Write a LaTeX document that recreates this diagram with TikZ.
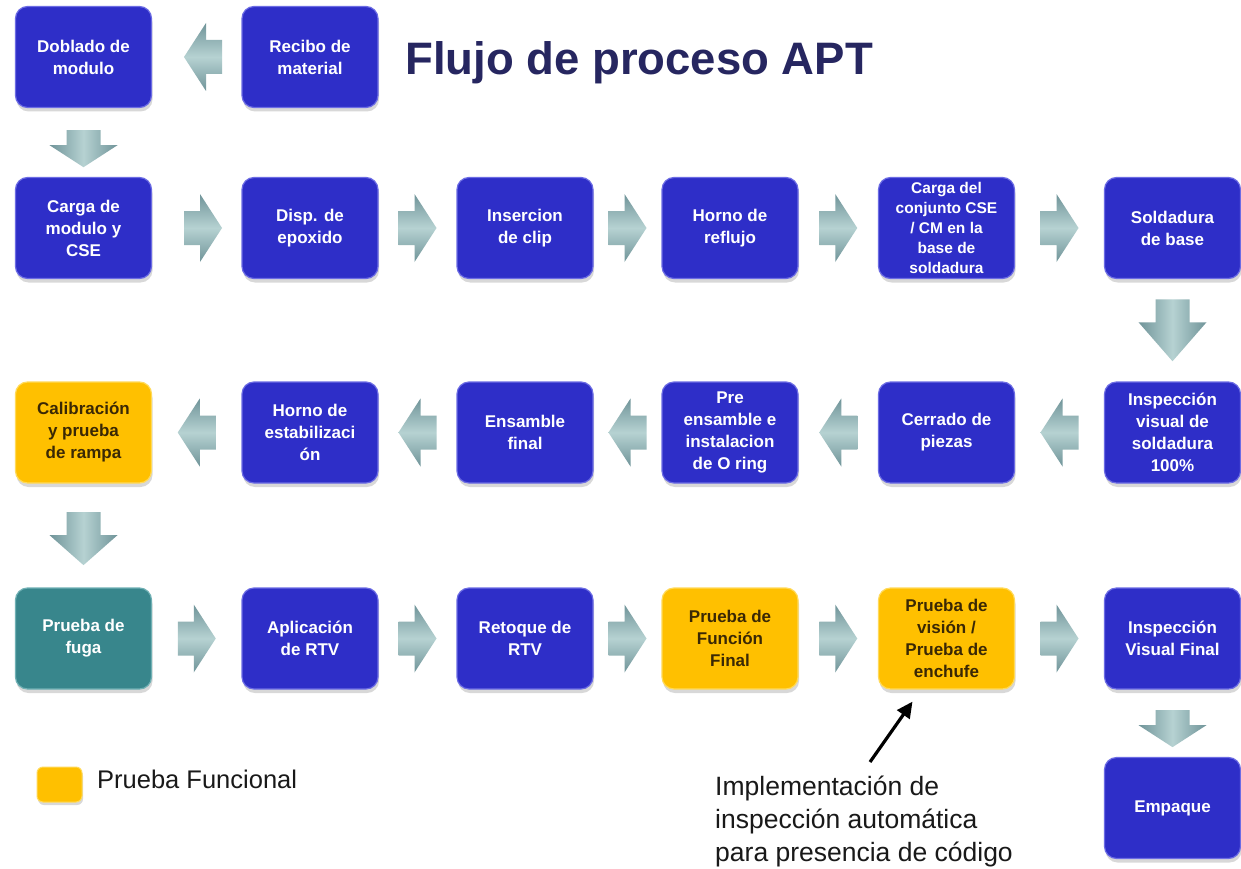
\documentclass[tikz,border=0pt]{standalone}
\usepackage{fontspec}
\setmainfont{Liberation Sans}
\usetikzlibrary{shadows,calc,arrows.meta}
\definecolor{boxblue}{RGB}{46,46,200}
\definecolor{boxrim}{RGB}{108,108,228}
\definecolor{boxyellow}{RGB}{255,192,0}
\definecolor{yellowrim}{RGB}{255,218,90}
\definecolor{boxteal}{RGB}{56,134,140}
\definecolor{tealrim}{RGB}{112,176,180}
\definecolor{titlenavy}{RGB}{38,38,96}
\definecolor{yellowtext}{RGB}{58,40,5}
\definecolor{arrowedge}{RGB}{112,148,153}
\definecolor{arrowmid}{RGB}{182,210,210}
\tikzset{
  procbox/.style={rectangle, rounded corners=12pt, minimum width=136pt, minimum height=101pt,
    inner sep=2pt, align=center, font=\bfseries\fontsize{17}{22}\selectfont, line width=1.2pt,
    drop shadow={shadow xshift=1pt, shadow yshift=-4pt, opacity=0.3}},
  bluebox/.style={procbox, fill=boxblue, draw=boxrim, text=white},
  yellowbox/.style={procbox, fill=boxyellow, draw=yellowrim, text=yellowtext},
  tealbox/.style={procbox, fill=boxteal, draw=tealrim, text=white},
  hshade/.style={top color=arrowedge, bottom color=arrowedge, middle color=arrowmid},
  vshade/.style={left color=arrowedge, right color=arrowedge, middle color=arrowmid},
}
% #1 from, #2 to, #3 fraction, #4 rotation, #5 shading, #6 length, #7 head length
\newcommand\flowarrow[7]{%
  \path[#5, shift={($(#1)!#3!(#2)$)}, rotate=#4]
    (-#6/2,17) -- (#6/2-#7,17) -- (#6/2-#7,34) -- (#6/2,0) -- (#6/2-#7,-34)
    -- (#6/2-#7,-17) -- (-#6/2,-17) -- cycle;
}
\begin{document}
\begin{tikzpicture}[x=1pt,y=1pt]
\fill[white] (0,0) rectangle (1241,-869);
\useasboundingbox (0,0) rectangle (1241,-869);

% title
\node[anchor=base west, inner sep=0pt, text=titlenavy, font=\bfseries\fontsize{45.5}{52}\selectfont]
  (title) at (405,-75) {Flujo de proceso APT};

% row 1
\node[bluebox] (doblado) at (83.5,-57) {Doblado de\\modulo};
\node[bluebox] (recibo) at (310,-57) {Recibo de\\material};
% row 2
\node[bluebox] (carga) at (83.5,-228) {Carga de\\modulo y\\CSE};
\node[bluebox] (disp) at (310,-228) {Disp. de\\epoxido};
\node[bluebox] (insercion) at (525,-228) {Insercion\\de clip};
\node[bluebox] (reflujo) at (730,-228) {Horno de\\reflujo};
\node[bluebox, font=\bfseries\fontsize{15.5}{20}\selectfont] (cargadel) at (946.5,-228)
  {Carga del\\conjunto CSE\\/ CM en la\\base de\\soldadura};
\node[bluebox] (soldadura) at (1172.5,-228) {Soldadura\\de base};
% row 3
\node[bluebox] (inspsold) at (1172.5,-432.5) {Inspección\\visual de\\soldadura\\100\%};
\node[bluebox] (cerrado) at (946.5,-432.5) {Cerrado de\\piezas};
\node[bluebox] (preens) at (730,-432.5) {Pre\\ensamble e\\instalacion\\de O ring};
\node[bluebox] (ensamble) at (525,-432.5) {Ensamble\\final};
\node[bluebox] (hornoest) at (310,-432.5) {Horno de\\estabilizaci\\ón};
\node[yellowbox] (calib) at (83.5,-432.5) {Calibración\\y prueba\\de rampa};
% row 4
\node[tealbox] (fuga) at (83.5,-638.5) {Prueba de\\fuga};
\node[bluebox] (aplic) at (310,-638.5) {Aplicación\\de RTV};
\node[bluebox] (retoque) at (525,-638.5) {Retoque de\\RTV};
\node[yellowbox] (funcion) at (730,-638.5) {Prueba de\\Función\\Final};
\node[yellowbox] (vision) at (946.5,-638.5) {Prueba de\\visión /\\Prueba de\\enchufe};
\node[bluebox] (inspfinal) at (1172.5,-638.5) {Inspección\\Visual Final};
% row 5
\node[bluebox] (empaque) at (1172.5,-808) {Empaque};

% block arrows
\flowarrow{recibo.west}{doblado.east}{0.43}{180}{hshade}{38}{22}
\flowarrow{doblado.south}{carga.north}{0.59}{-90}{vshade}{37}{22}
\flowarrow{carga.east}{disp.west}{0.57}{0}{hshade}{38}{22}
\flowarrow{disp.east}{insercion.west}{0.5}{0}{hshade}{38}{22}
\flowarrow{insercion.east}{reflujo.west}{0.5}{0}{hshade}{38}{22}
\flowarrow{reflujo.east}{cargadel.west}{0.5}{0}{hshade}{38}{22}
\flowarrow{cargadel.east}{soldadura.west}{0.5}{0}{hshade}{38}{22}
\flowarrow{soldadura.south}{inspsold.north}{0.5}{-90}{vshade}{62}{39}
\flowarrow{inspsold.west}{cerrado.east}{0.5}{180}{hshade}{38}{22}
\flowarrow{cerrado.west}{preens.east}{0.5}{180}{hshade}{38}{22}
\flowarrow{preens.west}{ensamble.east}{0.5}{180}{hshade}{38}{22}
\flowarrow{ensamble.west}{hornoest.east}{0.5}{180}{hshade}{38}{22}
\flowarrow{hornoest.west}{calib.east}{0.5}{180}{hshade}{38}{22}
\flowarrow{calib.south}{fuga.north}{0.53}{-90}{vshade}{53}{30}
\flowarrow{fuga.east}{aplic.west}{0.5}{0}{hshade}{38}{22}
\flowarrow{aplic.east}{retoque.west}{0.5}{0}{hshade}{38}{22}
\flowarrow{retoque.east}{funcion.west}{0.5}{0}{hshade}{38}{22}
\flowarrow{funcion.east}{vision.west}{0.5}{0}{hshade}{38}{22}
\flowarrow{vision.east}{inspfinal.west}{0.5}{0}{hshade}{38}{22}
\flowarrow{inspfinal.south}{empaque.north}{0.58}{-90}{vshade}{37}{22}

% legend
\node[rectangle, rounded corners=6pt, minimum width=45pt, minimum height=35pt, inner sep=0pt,
  fill=boxyellow, draw=yellowrim, line width=1pt,
  drop shadow={shadow xshift=1pt, shadow yshift=-3pt, opacity=0.3}] (legbox) at (59.5,-784.5) {};
\node[anchor=base west, inner sep=0pt, font=\fontsize{25.5}{30}\selectfont, text=black!90]
  (legtext) at (97,-788) {Prueba Funcional};

% annotation
\node[anchor=north west, inner sep=0pt, align=left, font=\fontsize{26.5}{33}\selectfont, text=black!90]
  (annot) at (715,-776) {Implementación de\\inspección automática\\para presencia de código};
\draw[line width=3.2pt, -{Triangle[length=16pt,width=15pt]}]
  ($(annot.north)+(6,14)$) -- ($(vision.south)+(-34,-12)$);
\end{tikzpicture}
\end{document}
